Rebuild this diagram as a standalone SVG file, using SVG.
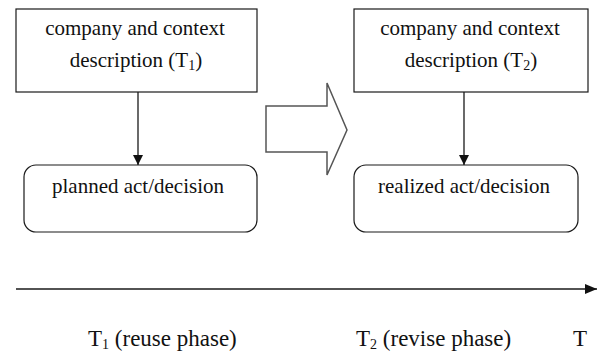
<svg xmlns="http://www.w3.org/2000/svg" width="603" height="354" viewBox="0 0 603 354">
<style>
.box{fill:#fff;stroke:#1a1a1a;stroke-width:1.2}
.t{font-family:"Liberation Serif","Times New Roman",serif;font-size:21px;fill:#111;text-anchor:middle}
.tl{font-family:"Liberation Serif","Times New Roman",serif;font-size:23px;fill:#111}
.sub{font-size:14px}
.ln{stroke:#1a1a1a;stroke-width:1.3;fill:none}
</style>
<defs>
<marker id="ah" viewBox="0 0 10 10" refX="10" refY="5" markerWidth="10" markerHeight="10" markerUnits="userSpaceOnUse" orient="auto">
<path d="M0,0 L10,5 L0,10 Z" fill="#111"/>
</marker>
<marker id="ah2" viewBox="0 0 12 10" refX="12" refY="5" markerWidth="12" markerHeight="10" markerUnits="userSpaceOnUse" orient="auto">
<path d="M0,0 L12,5 L0,10 Z" fill="#111"/>
</marker>
</defs>
<g id="ctx1">
<rect class="box" x="16" y="9" width="241" height="83"/>
<text class="t" x="135" y="35">company and context</text>
<text class="t" x="136" y="67">description (T<tspan class="sub" dy="3">1</tspan><tspan dy="-3">)</tspan></text>
</g>
<g id="act1">
<rect class="box" x="24" y="165" width="233" height="67" rx="12"/>
<text class="t" x="138" y="193">planned act/decision</text>
</g>
<g id="ctx2">
<rect class="box" x="354" y="9" width="234" height="83"/>
<text class="t" x="470" y="35">company and context</text>
<text class="t" x="471" y="67">description (T<tspan class="sub" dy="3">2</tspan><tspan dy="-3">)</tspan></text>
</g>
<g id="act2">
<rect class="box" x="354" y="165" width="224" height="67" rx="12"/>
<text class="t" x="464" y="193">realized act/decision</text>
</g>
<g id="blockarrow">
<path d="M266,106 L327,106 L327,83 L347,130 L327,175 L327,152 L266,152 Z" fill="#fff" stroke="#555" stroke-width="1.5" stroke-linejoin="miter"/>
</g>
<g id="connectors">
<line class="ln" x1="138" y1="92" x2="138" y2="165" marker-end="url(#ah)"/>
<line class="ln" x1="464" y1="92" x2="464" y2="165" marker-end="url(#ah)"/>
<line class="ln" x1="16" y1="289" x2="597" y2="289" marker-end="url(#ah2)"/>
</g>
<g id="timeline-labels">
<text class="tl" x="88" y="346">T<tspan class="sub" dy="3">1</tspan><tspan dy="-3"> (reuse phase)</tspan></text>
<text class="tl" x="356" y="346">T<tspan class="sub" dy="3">2</tspan><tspan dy="-3"> (revise phase)</tspan></text>
<text class="tl" x="573" y="346">T</text>
</g>
</svg>
